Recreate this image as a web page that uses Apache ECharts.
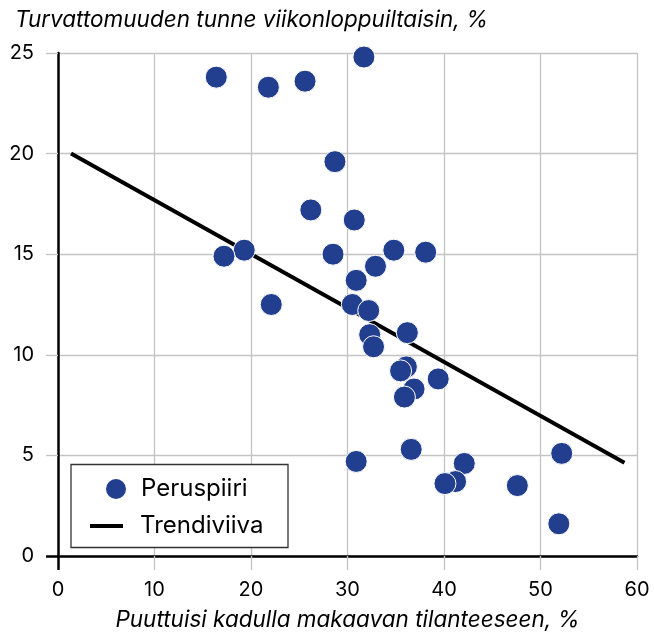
<!DOCTYPE html>
<html>
<head>
<meta charset="utf-8">
<script src="https://cdn.jsdelivr.net/npm/echarts@6/dist/echarts.min.js"></script>
<style>
html,body{margin:0;padding:0;background:#fff;}
#c{width:654px;height:634px;}
</style>
</head>
<body>
<div id="c"></div>
<script>
// Data
const xValues = [16.4, 21.8, 25.6, 31.7, 28.7, 26.2, 30.7, 19.3, 17.2, 28.5, 34.8, 38.1, 32.9, 30.9, 22.1, 30.5, 32.2, 32.3, 32.7, 36.2, 36.1, 35.5, 39.4, 36.9, 35.9, 36.6, 30.9, 42.1, 41.2, 40.1, 47.6, 52.2, 51.9];
const yValues = [23.8, 23.3, 23.6, 24.8, 19.6, 17.2, 16.7, 15.2, 14.9, 15.0, 15.2, 15.1, 14.4, 13.7, 12.5, 12.5, 12.2, 11.0, 10.4, 11.1, 9.4, 9.2, 8.8, 8.3, 7.9, 5.3, 4.7, 4.6, 3.7, 3.6, 3.5, 5.1, 1.6];
const trendX = [1.35, 58.7];
const trendY = [20.0, 4.63];
const xTicks = [0, 10, 20, 30, 40, 50, 60];
const yTicks = [0, 5, 10, 15, 20, 25];
const seriesNames = ['Peruspiiri', 'Trendiviiva'];
const yTitle = 'Turvattomuuden tunne viikonloppuiltaisin, %';
const xTitle = 'Puuttuisi kadulla makaavan tilanteeseen, %';

const FONT = 'Inter, "Noto Sans", sans-serif';
const scatterData = xValues.map((x, i) => [x, yValues[i]]);
const trendData = trendX.map((x, i) => [x, trendY[i]]);

const chart = echarts.init(document.getElementById('c'), null, {renderer: 'canvas'});
const gridColor = '#c3c3c3';

chart.setOption({
  animation: false,
  backgroundColor: '#ffffff',
  title: {
    text: yTitle,
    left: 10, top: 4,
    textStyle: {fontFamily: FONT, fontSize: 22.5, fontStyle: 'italic', fontWeight: 'normal', color: '#000'}
  },
  grid: {left: 58, top: 53, right: 17, bottom: 78, containLabel: false, outerBoundsMode: 'none'},
  xAxis: [{
    type: 'value', min: xTicks[0], max: xTicks[xTicks.length - 1], interval: 10,
    name: xTitle, nameLocation: 'middle', nameGap: 53,
    nameTextStyle: {fontFamily: FONT, fontSize: 22.5, fontStyle: 'italic', color: '#000'},
    axisLine: {show: true, onZero: true, lineStyle: {color: '#000', width: 2.5}},
    axisTick: {show: true, length: 14, lineStyle: {color: gridColor, width: 1.3}},
    axisLabel: {fontFamily: FONT, fontSize: 20, color: '#000', margin: 24},
    splitLine: {show: true, lineStyle: {color: gridColor, width: 1.3}}
  }, {
    type: 'value', min: xTicks[0], max: xTicks[xTicks.length - 1], position: 'bottom',
    axisLine: {show: false},
    axisTick: {show: true, customValues: [0], length: 14, lineStyle: {color: '#000', width: 2.5}},
    axisLabel: {show: false},
    splitLine: {show: false}
  }],
  yAxis: [{
    type: 'value', min: yTicks[0], max: yTicks[yTicks.length - 1], interval: 5,
    axisLine: {show: true, onZero: true, lineStyle: {color: '#000', width: 2.5}},
    axisTick: {show: true, length: 12, lineStyle: {color: gridColor, width: 1.3}},
    axisLabel: {fontFamily: FONT, fontSize: 20, color: '#000', margin: 24},
    splitLine: {show: true, lineStyle: {color: gridColor, width: 1.3}}
  }, {
    type: 'value', min: yTicks[0], max: yTicks[yTicks.length - 1], position: 'left',
    axisLine: {show: false},
    axisTick: {show: true, customValues: [0], length: 12, lineStyle: {color: '#000', width: 2.5}},
    axisLabel: {show: false},
    splitLine: {show: false}
  }],
  legend: [{
    data: [seriesNames[0]],
    left: 104, top: 477,
    itemWidth: 22, itemHeight: 22,
    padding: 0,
    textStyle: {fontFamily: FONT, fontSize: 24, color: '#000', padding: [0, 0, 0, 9]}
  }, {
    data: [{name: seriesNames[1], icon: 'rect'}],
    left: 90, top: 514,
    itemWidth: 33, itemHeight: 4,
    padding: 0,
    textStyle: {fontFamily: FONT, fontSize: 24, color: '#000', padding: [0, 0, 0, 12]}
  }],
  graphic: [{
    type: 'rect', z: 3,
    shape: {x: 71, y: 464.5, width: 217, height: 83},
    style: {fill: '#fff', stroke: '#333', lineWidth: 1.3}
  }],
  series: [{
    name: seriesNames[1],
    type: 'line',
    data: trendData,
    symbol: 'none',
    lineStyle: {color: '#000', width: 4},
    itemStyle: {color: '#000'},
    z: 2
  }, {
    name: seriesNames[0],
    type: 'scatter',
    data: scatterData,
    symbol: 'circle',
    symbolSize: 22,
    itemStyle: {color: '#213e8f', borderColor: '#ffffff', borderWidth: 1, opacity: 1},
    z: 3
  }]
});
</script>
</body>
</html>
